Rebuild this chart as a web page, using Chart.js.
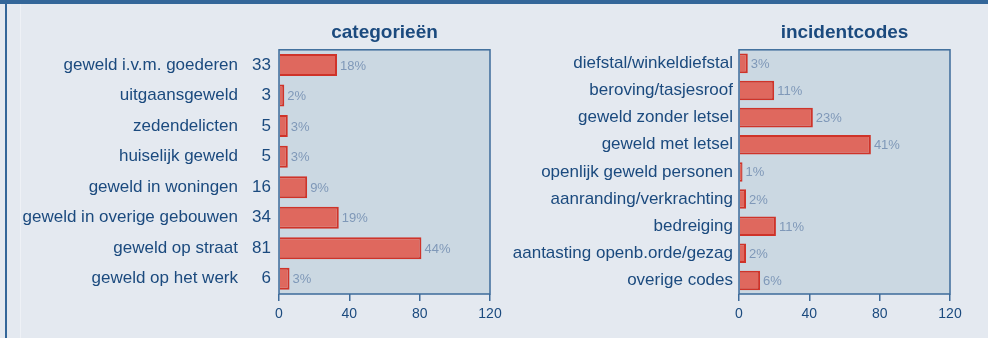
<!DOCTYPE html>
<html>
<head>
<meta charset="utf-8">
<script src="https://cdn.jsdelivr.net/npm/chart.js@4/dist/chart.umd.min.js"></script>
<style>
    html, body { margin: 0; padding: 0; }
    body {
        width: 988px; height: 338px; position: relative; overflow: hidden;
        background: #e4e9f0;
        font-family: "Liberation Sans", Arial, sans-serif;
    }
    .topbar { position: absolute; left: 0; top: 0; width: 988px; height: 4px; background: #336699; }
    .sidebar { position: absolute; left: 5px; top: 0; width: 2px; height: 338px; background: #336699; }
    .rule { position: absolute; left: 20px; top: 4px; width: 1px; height: 334px; background: #eef1f6; }
    .box { position: absolute; top: 0; height: 338px; }
    #box-cat { left: 0; width: 520px; }
    #box-code { left: 494px; width: 494px; }
</style>
</head>
<body>
<div class="topbar"></div>
<div class="sidebar"></div>
<div class="rule"></div>
<div class="box" id="box-cat"><canvas id="chart-cat"></canvas></div>
<div class="box" id="box-code"><canvas id="chart-code"></canvas></div>

<script>
// ---- data ----
const catLabels = [
    'geweld i.v.m. goederen', 'uitgaansgeweld', 'zedendelicten', 'huiselijk geweld',
    'geweld in woningen', 'geweld in overige gebouwen', 'geweld op straat', 'geweld op het werk'
];
const catCounts = [33, 3, 5, 5, 16, 34, 81, 6];

const codeLabels = [
    'diefstal/winkeldiefstal', 'beroving/tasjesroof', 'geweld zonder letsel', 'geweld met letsel',
    'openlijk geweld personen', 'aanranding/verkrachting', 'bedreiging',
    'aantasting openb.orde/gezag', 'overige codes'
];
const codeCounts = [5, 20, 42, 75, 2, 4, 21, 4, 12];

const xTicks = [0, 40, 80, 120];

// ---- styling ----
const FONT = '"Liberation Sans", Arial, sans-serif';
const DARK = '#1b4a7e';
const FRAME = '#3d6b9a';
const PLOT_BG = '#cbd8e2';
const BAR_FILL = '#df685e';
const BAR_EDGE = '#cf3329';
const PCT_COLOR = '#7f98b8';

// plot background + outline, percentage labels next to each bar
const plotFrame = {
    id: 'plotFrame',
    beforeDatasetsDraw(chart) {
        const { ctx, chartArea: a } = chart;
        ctx.save();
        ctx.fillStyle = PLOT_BG;
        ctx.fillRect(a.left, a.top, a.right - a.left, a.bottom - a.top);
        ctx.restore();
    },
    afterDatasetsDraw(chart) {
        const { ctx, chartArea: a } = chart;
        ctx.save();
        ctx.strokeStyle = FRAME;
        ctx.lineWidth = 1.5;
        ctx.strokeRect(a.left, a.top, a.right - a.left, a.bottom - a.top);

        const data = chart.data.datasets[0].data;
        const total = data.reduce((s, v) => s + v, 0);
        ctx.font = '13px ' + FONT;
        ctx.fillStyle = PCT_COLOR;
        ctx.textAlign = 'left';
        ctx.textBaseline = 'middle';
        chart.getDatasetMeta(0).data.forEach((bar, i) => {
            const pct = Math.round(data[i] / total * 100) + '%';
            ctx.fillText(pct, bar.x + 3, bar.y + 1);
        });
        ctx.restore();
    }
};

function xScale() {
    return {
        type: 'linear',
        min: 0, max: 120,
        afterBuildTicks: s => { s.ticks = xTicks.map(v => ({ value: v })); },
        afterFit: s => { s.height = 44; },
        grid: { display: true, drawOnChartArea: false, drawTicks: true, tickLength: 7, color: FRAME, lineWidth: 1.5 },
        border: { display: false },
        ticks: { color: DARK, font: { family: FONT, size: 14 }, padding: 5 }
    };
}

function labelAxis(width, padding, weight, labels) {
    const axis = {
        type: 'category',
        position: 'left',
        weight,
        offset: true,
        grid: { display: false, drawTicks: false },
        border: { display: false },
        ticks: { color: DARK, font: { family: FONT, size: 17 }, padding, autoSkip: false },
        afterFit: s => { s.width = width; }
    };
    if (labels) axis.labels = labels;
    return axis;
}

function makeChart(id, labels, counts, title, scales, padRight) {
    return new Chart(document.getElementById(id), {
        type: 'bar',
        data: {
            labels,
            datasets: [{
                data: counts,
                backgroundColor: BAR_FILL,
                borderColor: BAR_EDGE,
                borderWidth: 2,
                categoryPercentage: 1,
                barPercentage: 0.72
            }]
        },
        options: {
            indexAxis: 'y',
            responsive: true, maintainAspectRatio: false,
            animation: false,
            layout: { padding: { left: 0, right: padRight, top: 0, bottom: 0 } },
            plugins: {
                legend: { display: false },
                tooltip: { enabled: false },
                title: {
                    display: true, text: title, fullSize: false,
                    color: DARK, font: { family: FONT, size: 19, weight: 'bold' },
                    padding: { top: 21, bottom: 6 }
                }
            },
            scales
        },
        plugins: [plotFrame]
    });
}

// categories: names on the outer axis, counts on an inner axis next to the plot
makeChart('chart-cat', catLabels, catCounts, 'categorieën', {
    x: xScale(),
    y: labelAxis(245, 7, 2),
    yc: labelAxis(34, 8, 1, catCounts.map(String))
}, 30);

makeChart('chart-code', codeLabels, codeCounts, 'incidentcodes', {
    x: xScale(),
    y: labelAxis(245, 6, 1)
}, 38);
</script>
</body>
</html>
